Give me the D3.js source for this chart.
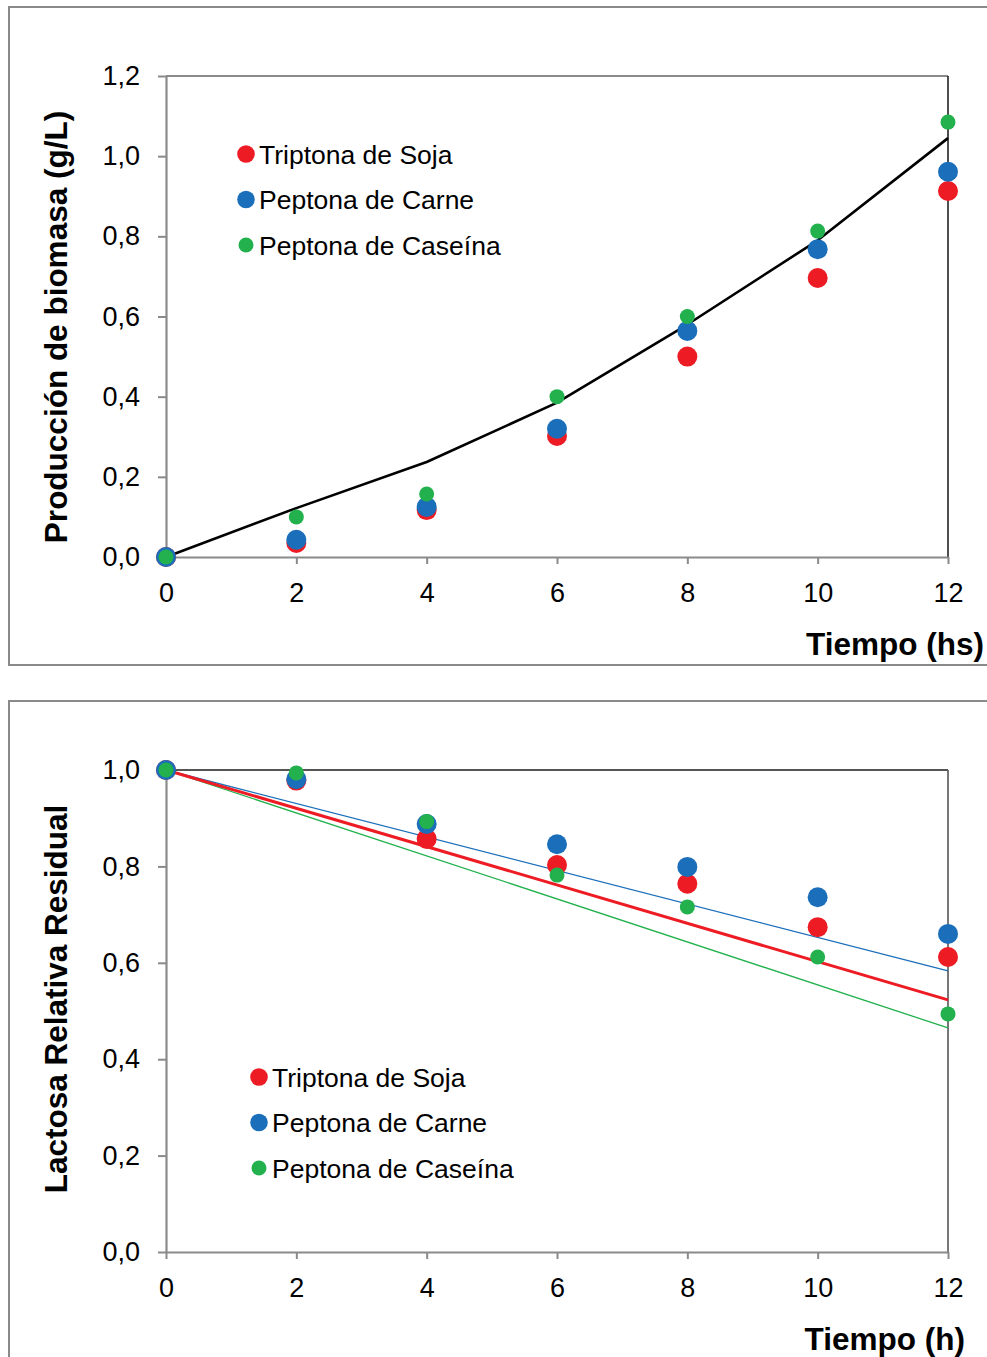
<!DOCTYPE html>
<html>
<head>
<meta charset="utf-8">
<script src="https://cdn.jsdelivr.net/npm/d3@7"></script>
<style>
  body { margin: 0; background: #fff; }
  svg { display: block; }
  text { font-family: "Liberation Sans", Arial, Helvetica, sans-serif; fill: #000; }
</style>
</head>
<body>
<svg id="chart" width="987" height="1357"></svg>
<script>
// ---- Data ----
const tiempo = [0, 2, 4, 6, 8, 10, 12];
const xTicks = [0, 2, 4, 6, 8, 10, 12];

const seriesNames = ["Triptona de Soja", "Peptona de Carne", "Peptona de Caseína"];
const seriesColors = ["#ed1c24", "#1b6fba", "#22b14c"];

// Chart 1: biomass production (g/L)
const biomasaTriptona = [0, 0.035, 0.117, 0.302, 0.500, 0.696, 0.913];
const biomasaCarne    = [0, 0.043, 0.125, 0.320, 0.564, 0.768, 0.961];
const biomasaCaseina  = [0, 0.100, 0.157, 0.400, 0.600, 0.813, 1.085];
const biomasaModelo   = [0, 0.122, 0.237, 0.385, 0.580, 0.790, 1.045];
const biomasaYTicks = [0, 0.2, 0.4, 0.6, 0.8, 1.0, 1.2];

// Chart 2: relative residual lactose
const lactosaTriptona = [1, 0.978, 0.857, 0.803, 0.764, 0.674, 0.612];
const lactosaCarne    = [1, 0.981, 0.888, 0.846, 0.799, 0.736, 0.660];
const lactosaCaseina  = [1, 0.994, 0.893, 0.782, 0.716, 0.612, 0.494];
const tendenciaTiempo = [0, 12];
const tendenciaTriptona = [1, 0.523];
const tendenciaCarne    = [1, 0.583];
const tendenciaCaseina  = [1, 0.465];
const lactosaYTicks = [0, 0.2, 0.4, 0.6, 0.8, 1.0];

const fmt = v => d3.format(".1f")(v).replace(".", ",");

const svg = d3.select("#chart");

function drawPanel(cfg) {
  // outer frame
  svg.append("rect")
    .attr("x", cfg.frame[0]).attr("y", cfg.frame[1])
    .attr("width", cfg.frame[2]).attr("height", cfg.frame[3])
    .attr("fill", "#fff").attr("stroke", "#8a8a8a").attr("stroke-width", 2);

  const x = d3.scaleLinear().domain([0, 12]).range([cfg.left, cfg.right]);
  const y = d3.scaleLinear().domain([0, cfg.yMax]).range([cfg.bottom, cfg.top]);

  const g = svg.append("g");

  // top & right border
  g.append("line").attr("x1", cfg.left).attr("x2", cfg.right)
    .attr("y1", cfg.top).attr("y2", cfg.top)
    .attr("stroke", cfg.topColor).attr("stroke-width", 2);
  g.append("line").attr("x1", cfg.right).attr("x2", cfg.right)
    .attr("y1", cfg.top).attr("y2", cfg.bottom)
    .attr("stroke", cfg.rightColor).attr("stroke-width", 1.6);

  // axes
  const yAxis = g.append("g").attr("transform", `translate(${cfg.left},0)`)
    .call(d3.axisLeft(y).tickValues(cfg.yTicks).tickFormat(fmt).tickSize(8).tickPadding(18).tickSizeOuter(0));
  const xAxis = g.append("g").attr("transform", `translate(0,${cfg.bottom})`)
    .call(d3.axisBottom(x).tickValues(xTicks).tickFormat(d3.format("d")).tickSize(7).tickPadding(19).tickSizeOuter(0));
  [yAxis, xAxis].forEach(a => {
    a.select(".domain").attr("stroke", "#8a8a8a").attr("stroke-width", 2.2);
    a.selectAll(".tick line").attr("stroke", "#8a8a8a").attr("stroke-width", 2);
    a.selectAll(".tick text").attr("font-size", 27).attr("fill", "#000")
      .attr("font-family", "'Liberation Sans', Arial, sans-serif");
  });

  // lines
  cfg.lines.forEach(l => {
    const line = d3.line().x((d, i) => x(l.xs[i])).y(d => y(d));
    g.append("path").datum(l.ys).attr("d", line)
      .attr("fill", "none").attr("stroke", l.color).attr("stroke-width", l.width)
      .attr("stroke-linejoin", "round");
  });

  // points
  cfg.series.forEach((s, si) => {
    g.append("g").selectAll("circle").data(s.values).join("circle")
      .attr("cx", (d, i) => x(tiempo[i]))
      .attr("cy", d => y(d))
      .attr("r", s.r)
      .attr("fill", seriesColors[si]);
  });

  // axis titles
  svg.append("text")
    .attr("transform", `translate(${cfg.yLabelX},${cfg.yLabelY}) rotate(-90)`)
    .attr("text-anchor", "middle").attr("font-size", 31.5).attr("font-weight", "bold")
    .text(cfg.yLabel);
  svg.append("text")
    .attr("x", cfg.xLabelRight).attr("y", cfg.xLabelY)
    .attr("text-anchor", "end").attr("font-size", 31.5).attr("font-weight", "bold")
    .text(cfg.xLabel);

  // legend
  const leg = svg.append("g");
  seriesNames.forEach((name, i) => {
    const cy = cfg.legendY + i * cfg.legendGap;
    leg.append("circle").attr("cx", cfg.legendX).attr("cy", cy)
      .attr("r", i === 2 ? 7.5 : 8.8).attr("fill", seriesColors[i]);
    leg.append("text").attr("x", cfg.legendX + 13).attr("y", cy + 9.5)
      .attr("font-size", 26.5).text(name);
  });
}

drawPanel({
  frame: [9, 7, 1000, 658],
  left: 166, right: 948, top: 76, bottom: 557, yMax: 1.2,
  yTicks: biomasaYTicks,
  topColor: "#8a8a8a", rightColor: "#222",
  lines: [{ xs: tiempo, ys: biomasaModelo, color: "#000", width: 2.6 }],
  series: [
    { values: biomasaTriptona, r: 10 },
    { values: biomasaCarne, r: 10 },
    { values: biomasaCaseina, r: 7.5 }
  ],
  yLabel: "Producción de biomasa (g/L)", yLabelX: 67, yLabelY: 327,
  xLabel: "Tiempo (hs)", xLabelRight: 984, xLabelY: 655,
  legendX: 246, legendY: 154, legendGap: 45.5
});

drawPanel({
  frame: [9, 701, 1000, 700],
  left: 166, right: 948, top: 770, bottom: 1252, yMax: 1.0,
  yTicks: lactosaYTicks,
  topColor: "#555", rightColor: "#555",
  lines: [
    { xs: tendenciaTiempo, ys: tendenciaCarne, color: "#1b6fba", width: 1.3 },
    { xs: tendenciaTiempo, ys: tendenciaCaseina, color: "#22b14c", width: 1.3 },
    { xs: tendenciaTiempo, ys: tendenciaTriptona, color: "#ed1c24", width: 3 }
  ],
  series: [
    { values: lactosaTriptona, r: 10 },
    { values: lactosaCarne, r: 10 },
    { values: lactosaCaseina, r: 7.5 }
  ],
  yLabel: "Lactosa Relativa Residual", yLabelX: 67, yLabelY: 999,
  xLabel: "Tiempo (h)", xLabelRight: 965, xLabelY: 1350,
  legendX: 259, legendY: 1077, legendGap: 45.5
});
</script>
</body>
</html>
